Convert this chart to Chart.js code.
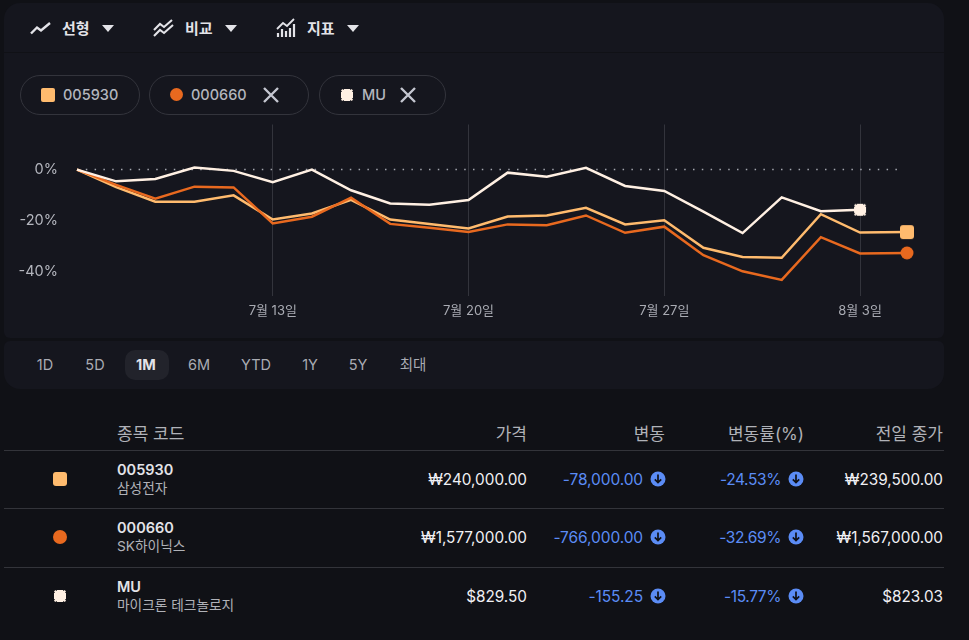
<!DOCTYPE html>
<html lang="ko">
<head>
<meta charset="utf-8">
<title>비교 차트</title>
<script src="https://cdn.jsdelivr.net/npm/chart.js@4"></script>
<style>
html,body{margin:0;padding:0;background:#101116;overflow:hidden}
body{width:969px;height:640px;position:relative;font-family:Inter,"Noto Sans CJK KR",sans-serif;color:#e3e3e8}
.abs,.t{position:absolute;white-space:nowrap}
.t{line-height:20px;height:20px}
.r{text-align:right}
.panel{position:absolute;left:4px;width:940px;background:#15161e}
.chip{position:absolute;top:75px;height:38px;border:1px solid #33343c;border-radius:20px}
canvas#myChart{position:absolute;left:0;top:115px}
.tool{font-size:15px;font-weight:700;color:#e3e3e8;top:19px}
.range{font-size:14.5px;color:#a9abb3;top:355px;width:60px;text-align:center}
.head{font-size:17px;color:#b0b2b8;top:424px}
.val{font-size:15.3px;font-weight:400;color:#f0f0f4}
.blue{font-size:15.5px;letter-spacing:-0.1px;color:#5b8cf5}
.line{position:absolute;left:4px;width:940px;height:1px;background:#33343a}
.code{font-size:14.5px;font-weight:500;color:#b4b6be;top:85px}
</style>
</head>
<body>
<div class="panel" style="top:3px;height:49px;border-radius:16px 16px 0 0"></div>
<div class="panel" style="top:53px;height:285px;border-radius:0 0 6px 6px"></div>
<div class="panel" style="top:341px;height:48px;border-radius:6px 6px 16px 16px"></div>

<svg class="abs" style="left:30px;top:20px" width="21" height="16" fill="none" stroke="#e3e3e8" stroke-width="2.4"><path d="M1 13.5 7 7.5 11 10.5 20 3"/></svg>
<div class="t tool" style="left:62px">선형</div>
<svg class="abs" style="left:102px;top:25px" width="12" height="7"><path d="M0 0H12L6 7Z" fill="#e3e3e8"/></svg>
<svg class="abs" style="left:153px;top:18px" width="21" height="20" fill="none" stroke="#e3e3e8" stroke-width="2.1"><path d="M1 12 7 6 11 9 19 2M1 18 7 12 11 15 20 7"/></svg>
<div class="t tool" style="left:185px">비교</div>
<svg class="abs" style="left:225px;top:25px" width="12" height="7"><path d="M0 0H12L6 7Z" fill="#e3e3e8"/></svg>
<svg class="abs" style="left:276px;top:18px" width="20" height="20" fill="none" stroke="#e3e3e8"><path stroke-width="1.8" d="M1 11 7 5 11 8 18 1"/><path stroke-width="2.2" d="M2 19V15M6 19V11M10 19V13M14 19V10M18 19V6"/></svg>
<div class="t tool" style="left:307px">지표</div>
<svg class="abs" style="left:347px;top:25px" width="12" height="7"><path d="M0 0H12L6 7Z" fill="#e3e3e8"/></svg>

<div class="chip" style="left:20px;width:118px"></div>
<div class="chip" style="left:149px;width:158px"></div>
<div class="chip" style="left:319px;width:125px"></div>
<div class="abs" style="left:41px;top:88px;width:14px;height:14px;background:#ffbb6e;border-radius:2px"></div>
<div class="t code" style="left:63px">005930</div>
<div class="abs" style="left:170px;top:88px;width:13px;height:13px;background:#e8691f;border-radius:50%"></div>
<div class="t code" style="left:191px">000660</div>
<svg class="abs" style="left:263px;top:87px" width="16" height="16" stroke="#c4c6d0" stroke-width="2.4"><path d="M1 1 15 15M15 1 1 15"/></svg>
<canvas id="chipBlob" class="abs" style="left:339px;top:87px" width="16" height="16"></canvas>
<div class="t code" style="left:362px">MU</div>
<svg class="abs" style="left:400px;top:87px" width="16" height="16" stroke="#c4c6d0" stroke-width="2.4"><path d="M1 1 15 15M15 1 1 15"/></svg>

<canvas id="myChart" width="950" height="215"></canvas>

<div class="abs" style="left:125px;top:350px;width:44px;height:30px;background:#22232b;border-radius:10px"></div>
<div id="ranges"></div>
<div id="table"></div>

<script>
// x = trading session number, the last one is the live session
const sessions = [0,1,2,3,4,5,6,7,8,9,10,11,12,13,14,15,16,17,18,19,20,21.2]
const samsung = [0,-6.9,-12.6,-12.6,-10.1,-19.6,-17.2,-11.9,-19.6,-21.3,-23.1,-18.4,-18.0,-15.0,-21.5,-19.9,-30.7,-34.3,-34.6,-17.5,-24.7,-24.53]
const hynix = [0,-6.0,-11.4,-6.7,-7.0,-21.1,-18.5,-11.0,-21.3,-22.8,-24.5,-21.5,-21.8,-18.0,-24.8,-22.4,-33.6,-39.9,-43.3,-26.5,-32.9,-32.69]
const micron = [0,-4.6,-3.7,0.8,-0.5,-4.9,0,-8.1,-13.3,-13.8,-11.9,-1.2,-2.8,0.7,-6.4,-8.4,-16.5,-24.9,-10.9,-16.3,-15.77]
const zeroSessions = [0,21.05]
const zeroValues = [0,0]

const xTickValues = [5,10,15,20]
const xTickLabels = ['7월 13일','7월 20일','7월 27일','8월 3일']
const yTickValues = [0,-20,-40]

const rangeLabels = ['1D','5D','1M','6M','YTD','1Y','5Y','최대']
const rangeCenters = [45,95,146,199,256,310,358,413]

const headers = ['종목 코드','가격','변동','변동률(%)','전일 종가']
const tickers = ['005930','000660','MU']
const names = ['삼성전자','SK하이닉스','마이크론 테크놀로지']
const prices = ['₩240,000.00','₩1,577,000.00','$829.50']
const changes = ['-78,000.00','-766,000.00','-155.25']
const changePcts = ['-24.53%','-32.69%','-15.77%']
const prevCloses = ['₩239,500.00','₩1,567,000.00','$823.03']
const colors = ['#ffbb6e','#e8691f','#fff0e3']

function marker(draw){
    const c = document.createElement('canvas')
    c.width = 16
    c.height = 16
    draw(c.getContext('2d'))
    return c
}
const squareMark = marker(g=>{
    g.fillStyle = colors[0]
    g.beginPath()
    g.roundRect(1,1,14,14,3)
    g.fill()
})
const circleMark = marker(g=>{
    g.fillStyle = colors[1]
    g.beginPath()
    g.arc(8,8,6.5,0,Math.PI*2)
    g.fill()
})
// MU's mark is a soft square with small nicks near each corner
function drawBlob(g){
    g.fillStyle = colors[2]
    g.beginPath()
    g.roundRect(2,2,12,12,2.5)
    g.fill()
    g.globalCompositeOperation = 'destination-out'
    g.fillStyle = 'rgba(0,0,0,0.7)'
    ;[[4,2],[11,2],[4,13],[11,13],[2,4],[2,11],[13,4],[13,11]].forEach(p=>g.fillRect(p[0],p[1],1,1))
    g.globalCompositeOperation = 'source-over'
}
const blobMark = marker(drawBlob)
drawBlob(document.getElementById('chipBlob').getContext('2d'))

function points(xs,ys){
    return ys.map((y,i)=>({x:xs[i],y:y}))
}
function series(label,values,color,mark){
    return {
        label: label,
        data: points(sessions,values),
        borderColor: color,
        borderWidth: 2.5,
        tension: 0,
        clip: false,
        pointStyle: mark,
        pointRadius: c=>c.dataIndex===values.length-1?7:0,
        pointHoverRadius: 0
    }
}

new Chart(document.getElementById('myChart').getContext('2d'),{
    type:'line',
    data:{
        datasets:[
            series('MU',micron,colors[2],blobMark),
            series('000660',hynix,colors[1],circleMark),
            series('005930',samsung,colors[0],squareMark),
            {
                label:'0%',
                data:points(zeroSessions,zeroValues),
                borderColor:'#a4a6ae',
                borderWidth:1.5,
                borderDash:[1.5,7.3],
                pointRadius:0
            }
        ]
    },
    options:{
        responsive:false,
        animation:false,
        layout:{padding:{top:0,right:43,left:0,bottom:0}},
        plugins:{legend:{display:false},tooltip:{enabled:false}},
        scales:{
            x:{
                type:'linear',
                min:0,
                max:21.2,
                afterBuildTicks:s=>{s.ticks = xTickValues.map(v=>({value:v}))},
                afterFit:s=>{s.height = 34},
                grid:{color:'#33343c',lineWidth:1,drawTicks:false},
                border:{display:false},
                ticks:{
                    autoSkip:false,
                    maxRotation:0,
                    padding:7,
                    color:'#a9abb3',
                    font:{family:'Inter, "Noto Sans CJK KR"',size:13},
                    callback:v=>xTickLabels[xTickValues.indexOf(v)]
                }
            },
            y:{
                min:-49.6,
                max:17.7,
                afterBuildTicks:s=>{s.ticks = yTickValues.map(v=>({value:v}))},
                afterFit:s=>{
                    s.width = 77
                    s.paddingTop = 0
                    s.paddingBottom = 0
                },
                grid:{display:false},
                border:{display:false},
                ticks:{
                    padding:11,
                    color:'#b4b6be',
                    font:{family:'Inter, "Noto Sans CJK KR"',size:14.5},
                    callback:v=>v+'%'
                }
            }
        }
    }
})

function addText(parent,cls,text,style){
    const d = document.createElement('div')
    d.className = 't '+cls
    d.textContent = text
    d.style.cssText = style
    parent.appendChild(d)
}

const ranges = document.getElementById('ranges')
rangeLabels.forEach((label,i)=>{
    const active = label==='1M'
    addText(ranges,'range',label,`left:${rangeCenters[i]-30}px;${active?'font-weight:700;color:#e3e3e8':''}`)
})

const downIcon = (x,y)=>`<svg class="abs" style="left:${x-8}px;top:${y-8}px" width="16" height="16"><circle cx="8" cy="8" r="7.5" fill="#5b8cf5"/><path d="M8 3.5V11.5M4.8 8.3 8 11.5 11.2 8.3" fill="none" stroke="#101116" stroke-width="1.7"/></svg>`

const table = document.getElementById('table')
addText(table,'head',headers[0],'left:117px')
addText(table,'head r',headers[1],'right:442px')
addText(table,'head r',headers[2],'right:304px')
addText(table,'head r',headers[3],'right:165px')
addText(table,'head r',headers[4],'right:26px')

const rowLines = [450,508,567]
const rowCenters = [479,537,596]
tickers.forEach((ticker,i)=>{
    const y = rowCenters[i]
    const line = document.createElement('div')
    line.className = 'line'
    line.style.top = rowLines[i]+'px'
    table.appendChild(line)
    if(i===2){
        const blob = marker(drawBlob)
        blob.className = 'abs'
        blob.style.cssText = `left:52px;top:${y-8}px`
        table.appendChild(blob)
    }else{
        const dot = document.createElement('div')
        dot.className = 'abs'
        dot.style.cssText = `left:53px;top:${y-7}px;width:14px;height:14px;background:${colors[i]};border-radius:${i===1?'50%':'3px'}`
        table.appendChild(dot)
    }
    addText(table,'',ticker,`left:117px;top:${y-19}px;font-size:14.5px;font-weight:600;color:#e3e3e8`)
    addText(table,'',names[i],`left:117px;top:${y-1}px;font-size:13.7px;color:#b0b2b8`)
    addText(table,'val r',prices[i],`right:442px;top:${y-9}px`)
    addText(table,'blue r',changes[i],`right:326px;top:${y-9}px`)
    addText(table,'blue r',changePcts[i],`right:188px;top:${y-9}px;letter-spacing:-0.4px`)
    addText(table,'val r',prevCloses[i],`right:26px;top:${y-9}px`)
    table.insertAdjacentHTML('beforeend',downIcon(658,y)+downIcon(796,y))
})
</script>
</body>
</html>
